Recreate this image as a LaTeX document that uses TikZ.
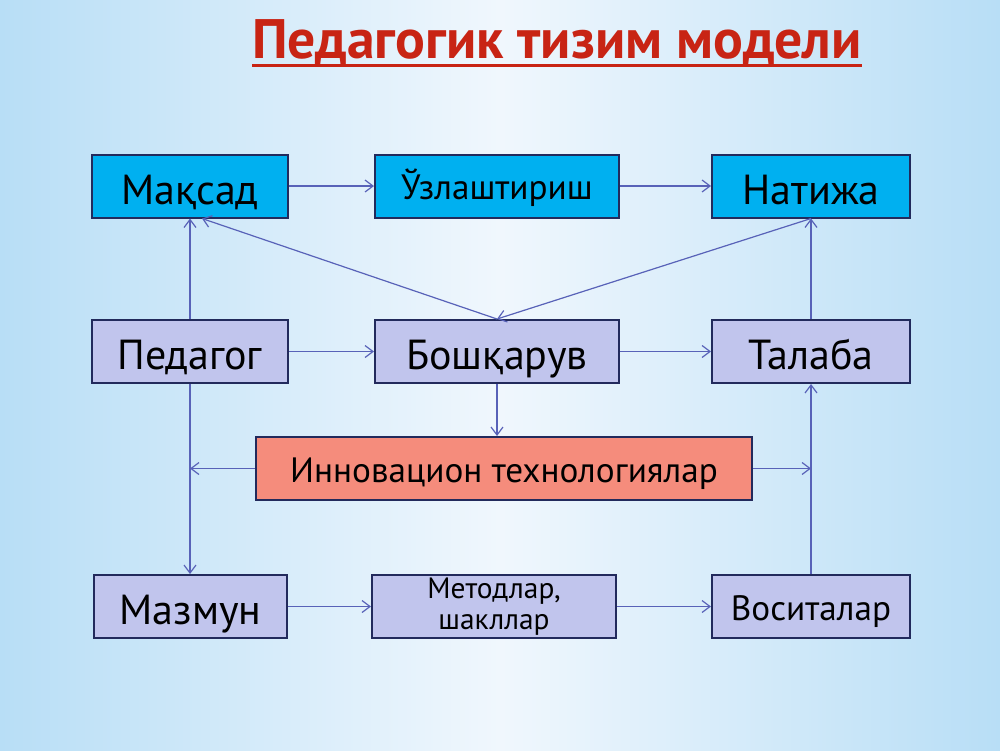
\documentclass[tikz,border=0pt]{standalone}
\usepackage{fontspec}
\setmainfont{PT Sans}
\usetikzlibrary{arrows.meta,calc}

\definecolor{bgedge}{RGB}{184,222,246}
\definecolor{bgmid}{RGB}{240,247,253}
\definecolor{ttlred}{RGB}{200,36,20}
\definecolor{boxline}{RGB}{34,42,92}
\definecolor{cyanbox}{RGB}{0,176,240}
\definecolor{lilacbox}{RGB}{193,197,237}
\definecolor{salmonbox}{RGB}{245,140,124}
\definecolor{arrowcol}{RGB}{88,98,184}

\begin{document}
\begin{tikzpicture}[
  x=0.5pt, y=-0.5pt,
  box/.style={draw=boxline, line width=1pt, inner sep=0pt, minimum height=31.5pt, align=center},
  goal/.style={box, fill=cyanbox},
  part/.style={box, fill=lilacbox},
  tech/.style={box, fill=salmonbox},
  big/.style={font=\fontsize{21}{24}\selectfont, text height=18.4pt, text depth=0.4pt},
  mid/.style={font=\fontsize{17.6}{21}\selectfont, text height=14pt, text depth=0.5pt},
  sml/.style={font=\fontsize{14.7}{16.5}\selectfont},
  conn/.style={draw=arrowcol, line width=0.6pt, -{Straight Barb[length=4pt,width=6pt]}},
  ttl/.style={font=\fontsize{27.8}{30}\selectfont\bfseries, inner sep=0pt},
]

% ====== Background ======
\shade[left color=bgedge, right color=bgedge, middle color=bgmid] (0,0) rectangle (1000,750);
\useasboundingbox (0,0) rectangle (1000,750);

% ====== Title ======
\node[ttl, text=ttlred] (title) at (557,42) {Педагогик тизим модели};
\draw[ttlred, line width=1.5pt] ([yshift=-3.8pt]title.base west) -- ([yshift=-3.8pt]title.base east);

% ====== Top row ======
\node[goal, big, minimum width=98pt] (maqsad) at (190,186) {Мақсад};
\node[goal, mid, minimum width=122pt] (uzl) at (497,186) {Ўзлаштириш};
\node[goal, big, minimum width=99pt] (natija) at (811,186) {Натижа};

% ====== Middle row ======
\node[part, big, minimum width=98pt] (pedagog) at (190,351.5) {Педагог};
\node[part, big, minimum width=122pt] (boshqar) at (497,351.5) {Бошқарув};
\node[part, big, minimum width=99pt] (talaba) at (811,351.5) {Талаба};

\node[tech, mid, minimum width=248pt] (innov) at (504,468.5) {Инновацион технологиялар};

% ====== Bottom row ======
\node[part, big, minimum width=96.5pt] (mazmun) at (190.5,606.5) {Мазмун};
\node[part, sml, minimum width=122pt] (metod) at (494,606.5) {Методлар,\\[-1pt]шакллар};
\node[part, mid, minimum width=99pt] (vosita) at (811,606.5) {Воситалар};

% ====== Connectors ======
\draw[conn] (maqsad) -- (uzl);
\draw[conn] (uzl) -- (natija);
\draw[conn] (pedagog) -- (boshqar);
\draw[conn] (boshqar) -- (talaba);
\draw[conn] (mazmun) -- (metod);
\draw[conn] (metod) -- (vosita);

\draw[conn] (pedagog.north) -- (maqsad.south);
\draw[conn] (boshqar.north) -- ([xshift=6pt]maqsad.south);
\draw[conn] (natija.south) -- (boshqar.north);
\draw[conn] (talaba.north) -- (natija.south);

\draw[conn] (boshqar.south) -- (boshqar.south |- innov.north);
\draw[conn] (pedagog.south) -- (pedagog.south |- mazmun.north);
\draw[conn] (innov.west) -- (pedagog.south |- innov.west);
\draw[conn] (innov.east) -- (talaba.south |- innov.east);
\draw[conn] (vosita.north) -- (talaba.south);

\end{tikzpicture}
\end{document}
